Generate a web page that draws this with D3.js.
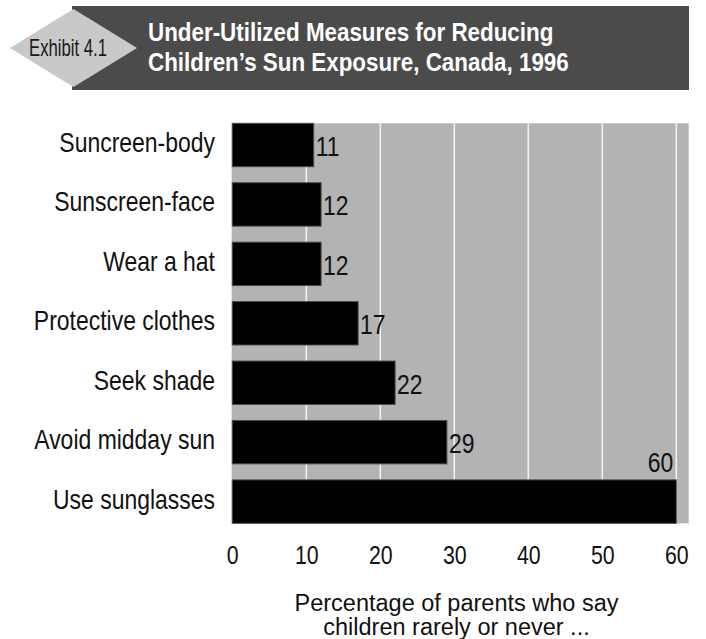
<!DOCTYPE html>
<html>
<head>
<meta charset="utf-8">
<script src="https://cdn.jsdelivr.net/npm/d3@7"></script>
<style>
  html, body { margin: 0; padding: 0; background: #ffffff; }
  svg { display: block; }
</style>
</head>
<body>
<svg id="chart" width="706" height="639"></svg>
<script>
// Share of parents reporting that children rarely or never use each measure (%)
const categories = [
  "Suncreen-body",
  "Sunscreen-face",
  "Wear a hat",
  "Protective clothes",
  "Seek shade",
  "Avoid midday sun",
  "Use sunglasses"
];
const values = [11, 12, 12, 17, 22, 29, 60];
const tickValues = [0, 10, 20, 30, 40, 50, 60];

const titleLines = [
  "Under-Utilized Measures for Reducing",
  "Children\u2019s Sun Exposure, Canada, 1996"
];
const exhibitLabel = "Exhibit 4.1";
const axisTitleLines = [
  "Percentage of parents who say",
  "children rarely or never ..."
];

const SANS = "'Liberation Sans', Arial, Helvetica, sans-serif";
const CONDENSE = 0.82; // horizontal squeeze giving a narrow face

// places a text at (px, py) and squeezes it horizontally about its anchor
function placeNarrow(sel, px, py, sx = CONDENSE) {
  sel.attr("x", 0).attr("y", 0)
    .attr("transform", (d, i) => {
      const X = typeof px === "function" ? px(d, i) : px;
      const Y = typeof py === "function" ? py(d, i) : py;
      return `translate(${X},${Y}) scale(${sx},1)`;
    });
}

const svg = d3.select("#chart");

// ---- header banner ----
const header = svg.append("g");
header.append("rect")
  .attr("x", 72).attr("y", 6)
  .attr("width", 617).attr("height", 84)
  .attr("fill", "#4b4b4b");

const dcx = 73.5, dcy = 48, dhw = 63.5, dhh = 39;
header.append("path")
  .attr("d", `M${dcx - dhw},${dcy} L${dcx},${dcy - dhh} L${dcx + dhw},${dcy} L${dcx},${dcy + dhh} Z`)
  .attr("fill", "#c9c9c9");

header.append("text")
  .attr("x", 68).attr("y", 55.5)
  .attr("text-anchor", "middle")
  .attr("font-family", SANS)
  .attr("font-size", 24)
  .attr("textLength", 78)
  .attr("lengthAdjust", "spacingAndGlyphs")
  .attr("fill", "#1a1a1a")
  .text(exhibitLabel);

header.selectAll("text.title")
  .data(titleLines)
  .join("text")
  .attr("class", "title")
  .attr("font-family", SANS)
  .attr("font-weight", "bold")
  .attr("font-size", 26.5)
  .attr("fill", "#ffffff")
  .text(d => d)
  .call(placeNarrow, 148, (d, i) => 40.5 + i * 30, 0.845);

// ---- plot area ----
const plotLeft = 232.3, plotTop = 123.3;
const scaleWidth = 444, plotHeight = 400, panelWidth = 457;

const x = d3.scaleLinear().domain([0, 60]).range([plotLeft, plotLeft + scaleWidth]);
const y = d3.scaleBand().domain(categories)
  .range([plotTop, plotTop + plotHeight])
  .paddingInner(0.27).paddingOuter(0);

svg.append("rect")
  .attr("x", plotLeft - 0.6).attr("y", plotTop)
  .attr("width", panelWidth).attr("height", plotHeight)
  .attr("fill", "#b3b3b3");

// vertical gridlines
svg.append("g")
  .selectAll("line")
  .data(tickValues.filter(t => t > 0))
  .join("line")
  .attr("x1", d => x(d)).attr("x2", d => x(d))
  .attr("y1", plotTop).attr("y2", plotTop + plotHeight)
  .attr("stroke", "#f2f2f2")
  .attr("stroke-width", 1.6);

// bars
const rows = categories.map((c, i) => ({ cat: c, val: values[i] }));
svg.append("g")
  .selectAll("rect")
  .data(rows)
  .join("rect")
  .attr("x", x(0))
  .attr("y", d => y(d.cat))
  .attr("width", d => x(d.val) - x(0))
  .attr("height", y.bandwidth())
  .attr("fill", "#000000")
  .attr("stroke", "#4a4a4a")
  .attr("stroke-width", 1);

// value labels: beside the bar, or above its end when the bar reaches the panel edge
const panelRight = plotLeft + panelWidth;
const fitsBeside = d => x(d.val) + 30 <= panelRight;
svg.append("g")
  .selectAll("text")
  .data(rows)
  .join("text")
  .attr("font-family", SANS)
  .attr("font-size", 28)
  .attr("fill", "#111111")
  .attr("text-anchor", d => fitsBeside(d) ? "start" : "end")
  .text(d => d.val)
  .call(placeNarrow,
    d => fitsBeside(d) ? x(d.val) + 2 : x(d.val) - 3,
    d => fitsBeside(d) ? y(d.cat) + y.bandwidth() / 2 + 11 : y(d.cat) - 8);

// category labels
svg.append("g")
  .selectAll("text")
  .data(categories)
  .join("text")
  .attr("text-anchor", "end")
  .attr("font-family", SANS)
  .attr("font-size", 28)
  .attr("fill", "#111111")
  .text(d => d)
  .call(placeNarrow, 215, d => y(d) + y.bandwidth() / 2 + 7);

// x axis tick labels
const xAxis = d3.axisBottom(x).tickValues(tickValues).tickSize(0).tickPadding(0);
const axisG = svg.append("g")
  .attr("transform", `translate(0,${plotTop + plotHeight + 41})`)
  .call(xAxis);
axisG.select(".domain").remove();
axisG.selectAll("text")
  .attr("dy", 0)
  .attr("y", 0)
  .attr("transform", `scale(${CONDENSE},1)`)
  .attr("font-family", SANS)
  .attr("font-size", 26)
  .attr("fill", "#111111");

// axis title
svg.append("g")
  .selectAll("text")
  .data(axisTitleLines)
  .join("text")
  .attr("x", 456.5)
  .attr("y", (d, i) => 611 + i * 24)
  .attr("text-anchor", "middle")
  .attr("font-family", SANS)
  .attr("font-size", 23.5)
  .attr("fill", "#111111")
  .text(d => d);
</script>
</body>
</html>
